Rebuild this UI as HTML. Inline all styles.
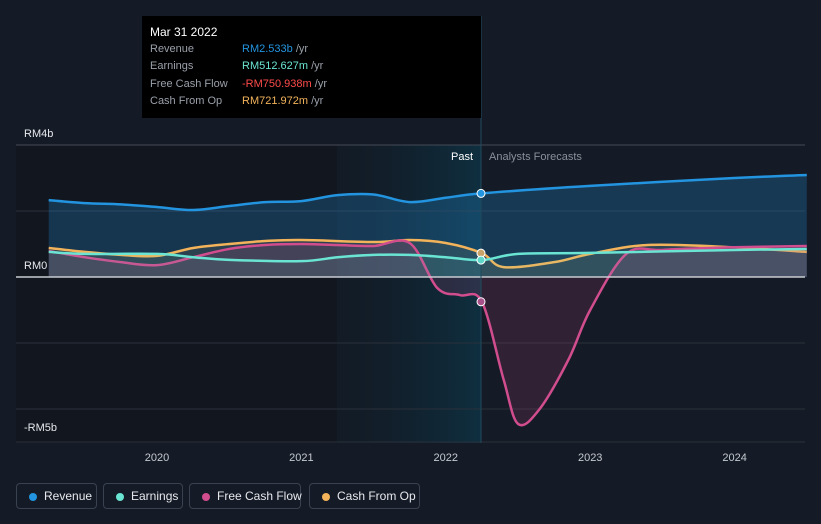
<!DOCTYPE html>
<html><head><meta charset="utf-8"><style>
body{margin:0;background:#151b26;font-family:"Liberation Sans",sans-serif;}
#wrap{position:relative;width:821px;height:524px;overflow:hidden;background:#151b26}
.leg{position:absolute;top:483px;height:26px;border:1px solid #3a4150;border-radius:4px;color:#e6e8ec;font-size:12px;line-height:24px;padding:0 0 0 27px;box-sizing:border-box;white-space:nowrap}
.leg i{position:absolute;left:12px;top:9px;width:8px;height:8px;border-radius:50%}
</style></head><body>
<div id="wrap">
<svg id="svg" width="821" height="524" style="position:absolute;left:0;top:0"></svg>
<div style="position:absolute;left:142px;top:16px;width:339px;height:102px;background:#000;font-size:11px;color:#9aa0aa">
<div style="position:absolute;left:8px;top:9px;color:#fff;font-size:12px">Mar 31 2022</div>
<div style="position:absolute;left:8px;top:27px">Revenue</div><div style="position:absolute;left:100px;top:27px"><span style="color:#2394df">RM2.533b</span> /yr</div>
<div style="position:absolute;left:8px;top:44px">Earnings</div><div style="position:absolute;left:100px;top:44px"><span style="color:#6be5d3">RM512.627m</span> /yr</div>
<div style="position:absolute;left:8px;top:62px">Free Cash Flow</div><div style="position:absolute;left:100px;top:62px"><span style="color:#ff4b4b">-RM750.938m</span> /yr</div>
<div style="position:absolute;left:8px;top:79px">Cash From Op</div><div style="position:absolute;left:100px;top:79px"><span style="color:#f2b35a">RM721.972m</span> /yr</div>
</div>
<div class="leg" style="left:16px;width:81px"><i style="background:#2394df"></i>Revenue</div>
<div class="leg" style="left:103px;width:80px"><i style="background:#6be5d3"></i>Earnings</div>
<div class="leg" style="left:189px;width:112px"><i style="background:#d14d8e"></i>Free Cash Flow</div>
<div class="leg" style="left:309px;width:111px"><i style="background:#f2b35a"></i>Cash From Op</div>
</div>
<script>
const revT=[2019.25,2019.5,2019.75,2020,2020.25,2020.5,2020.75,2021,2021.25,2021.5,2021.75,2022,2022.25,2023,2024,2024.5];
const revV=[2.33,2.24,2.2,2.12,2.03,2.15,2.27,2.3,2.48,2.5,2.27,2.4,2.533,2.76,3.0,3.09];
const earnT=[2019.25,2019.5,2020,2020.25,2020.5,2021,2021.25,2021.5,2021.75,2022,2022.25,2022.5,2023,2024,2024.5];
const earnV=[0.76,0.7,0.7,0.6,0.52,0.48,0.6,0.67,0.67,0.6,0.513,0.7,0.73,0.82,0.85];
const fcfT=[2019.25,2019.5,2019.75,2020,2020.25,2020.5,2020.75,2021,2021.25,2021.5,2021.75,2021.94,2022.1,2022.25,2022.4,2022.5,2022.65,2022.85,2023,2023.25,2023.5,2024,2024.5];
const fcfV=[0.79,0.6,0.45,0.36,0.6,0.85,0.97,1.0,0.97,0.94,1.03,-0.33,-0.55,-0.751,-3.1,-4.45,-4.0,-2.5,-1.0,0.7,0.82,0.9,0.94];
const cfoT=[2019.25,2019.5,2019.75,2020,2020.25,2020.5,2020.75,2021,2021.5,2021.75,2022,2022.25,2022.4,2022.75,2023,2023.4,2024,2024.5];
const cfoV=[0.88,0.76,0.67,0.64,0.88,1.0,1.09,1.12,1.06,1.12,1.03,0.722,0.3,0.45,0.7,0.97,0.9,0.76];
const yTicks=[4,0,-5];const yLabels=["RM4b","RM0","-RM5b"];
const xTicks=[2020,2021,2022,2023,2024];
const X=t=>157+(t-2020)*144.4, Y=v=>277-33*v;
const svg=document.getElementById('svg'),NS='http://www.w3.org/2000/svg';
function el(n,a,p){const e=document.createElementNS(NS,n);for(const k in a)e.setAttribute(k,a[k]);(p||svg).appendChild(e);return e;}
const defs=el('defs',{});
defs.innerHTML='<linearGradient id="pg" x1="0" x2="1"><stop offset="0" stop-color="#0e1a24" stop-opacity="0.3"/><stop offset="1" stop-color="#0d3446" stop-opacity="0.8"/></linearGradient>';
let r=el('rect',{x:16,y:145,width:321,height:298,fill:'#12161f'});
r=el('rect',{x:337,y:145,width:144,height:298,fill:'url(#pg)'});
[2,-2,-4].forEach(v=>{const g=el('line',{x1:16,x2:805,y1:Y(v),y2:Y(v),stroke:'#2a303b'});});
yTicks.forEach((v,i)=>{if(v!==0){const g=el('line',{x1:16,x2:805,y1:Y(v),y2:Y(v),stroke:v===4?'#444b57':'#2a303b'});}
const t=el('text',{x:24,y:Y(v)-8+(v<0?-3:0),fill:'#e6e8ec','font-size':11});t.textContent=yLabels[i];});
xTicks.forEach(v=>{const t=el('text',{x:X(v),y:461,fill:'#c5c9d0','font-size':11,'text-anchor':'middle'});t.textContent=v;});
function path(T,V){const p=T.map((t,i)=>[X(t),Y(V[i])]);let d='M'+p[0];for(let i=0;i<p.length-1;i++){const a=p[i-1]||p[i],b=p[i],c=p[i+1],e=p[i+2]||c;d+=` C${b[0]+(c[0]-a[0])/6},${b[1]+(c[1]-a[1])/6} ${c[0]-(e[0]-b[0])/6},${c[1]-(e[1]-b[1])/6} ${c[0]},${c[1]}`;}return d;}
const series=[[revT,revV,'#2394df','#2394df',0.25,'revenue'],[cfoT,cfoV,'#f2b35a','#f2b35a',0.1,'cash-from-op'],[fcfT,fcfV,'#d14d8e','#d14d8e',0.15,'free-cash-flow'],[earnT,earnV,'#6be5d3','#6be5d3',0.08,'earnings']];
series.forEach(s=>{const d=path(s[0],s[1]);const z=Y(0);
const a=el('path',{d:d+` L${X(s[0][s[0].length-1])},${z} L${X(s[0][0])},${z} Z`,fill:s[3],'fill-opacity':s[4]});
const l=el('path',{d:d,fill:'none',stroke:s[2],'stroke-width':2.5});});
const z=el('line',{x1:16,x2:805,y1:Y(0),y2:Y(0),stroke:'#c8ccd2','stroke-width':1.5});
const vl=el('line',{x1:481,x2:481,y1:16,y2:443,stroke:'#1f4a5c'});
let t=el('text',{x:473,y:160,fill:'#fff','font-size':11,'text-anchor':'end'});t.textContent='Past';
t=el('text',{x:489,y:160,fill:'#8a909a','font-size':11});t.textContent='Analysts Forecasts';
[[revV[12],'#2394df'],[cfoV[11],'#c9a26a'],[earnV[10],'#5fd6c8'],[fcfV[13],'#a8508a']].forEach(m=>{const c=el('circle',{cx:481,cy:Y(m[0]),r:4,fill:m[1],stroke:'#fff','stroke-width':1});});
</script>
</body></html>
